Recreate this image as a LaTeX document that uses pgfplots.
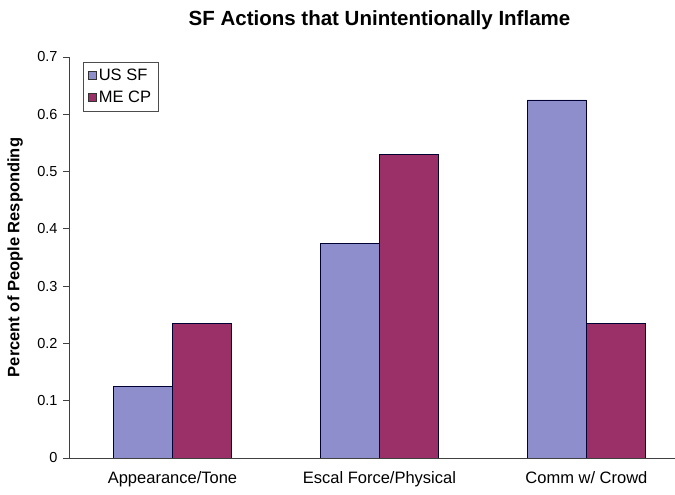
\documentclass[border=0pt]{standalone}
\usepackage{pgfplots}
\pgfplotsset{compat=1.18}
\usepackage{fontspec}
\setmainfont{Liberation Sans}
\definecolor{usSF}{HTML}{8E8ECC}
\definecolor{meCP}{HTML}{9B3068}
\begin{document}
\begin{tikzpicture}[x=1pt,y=1pt]
\begin{axis}[
    at={(0pt,0pt)}, anchor=south west,
    scale only axis,
    width=606pt, height=401pt,
    ybar, bar width=59pt, ybar=0pt,
    xmin=-0.5, xmax=2.428,
    ymin=0, ymax=0.7,
    axis x line*=bottom, axis y line*=left,
    axis line style={black!75, line width=0.8pt},
    ytick={0,0.1,...,0.7},
    yticklabels={0,0.1,0.2,0.3,0.4,0.5,0.6,0.7},
    xtick={0,1,2},
    xticklabels={Appearance/Tone, Escal Force/Physical, Comm w/ Crowd},
    extra x ticks={0.5,1.5},
    extra x tick labels={},
    extra x tick style={major tick length=6pt, tick style={black!75, line width=0.8pt}},
    x tick style={draw=none},
    y tick style={black!75, line width=0.8pt},
    tick align=outside,
    major tick length=6pt,
    /pgf/number format/assume math mode=true,
    yticklabel style={font=\fontsize{14.5}{16}\selectfont, xshift=-2pt},
    xticklabel style={font=\fontsize{16.5}{18}\selectfont, yshift=-4pt},
    ylabel={\bfseries Percent of People Responding},
    ylabel style={font=\fontsize{16.5}{18}\selectfont, at={(axis description cs:-0.089,0.5)}, rotate=0, anchor=center},
    legend style={at={(14pt,396pt)}, anchor=north west, draw=black!70,
        font=\fontsize{16.5}{18}\selectfont, row sep=5pt, inner sep=5pt,
        cells={anchor=west}},
    legend image code/.code={\draw[#1, draw=black!80] (0pt,-4pt) rectangle (8pt,4pt);},
]
\addplot[fill=usSF, draw=black!80!blue, line width=0.6pt] coordinates {(0,0.125) (1,0.375) (2,0.625)};
\addlegendentry{US SF}
\addplot[fill=meCP, draw=black!80!blue, line width=0.6pt] coordinates {(0,0.235) (1,0.53) (2,0.235)};
\addlegendentry{ME CP}
\end{axis}
\node[font=\bfseries\fontsize{20.5}{24}\selectfont] at (310.5pt,438pt) {SF Actions that Unintentionally Inflame};
\pgfresetboundingbox
\path (-69pt,-37pt) rectangle (606pt,458pt);
\end{tikzpicture}
\end{document}
